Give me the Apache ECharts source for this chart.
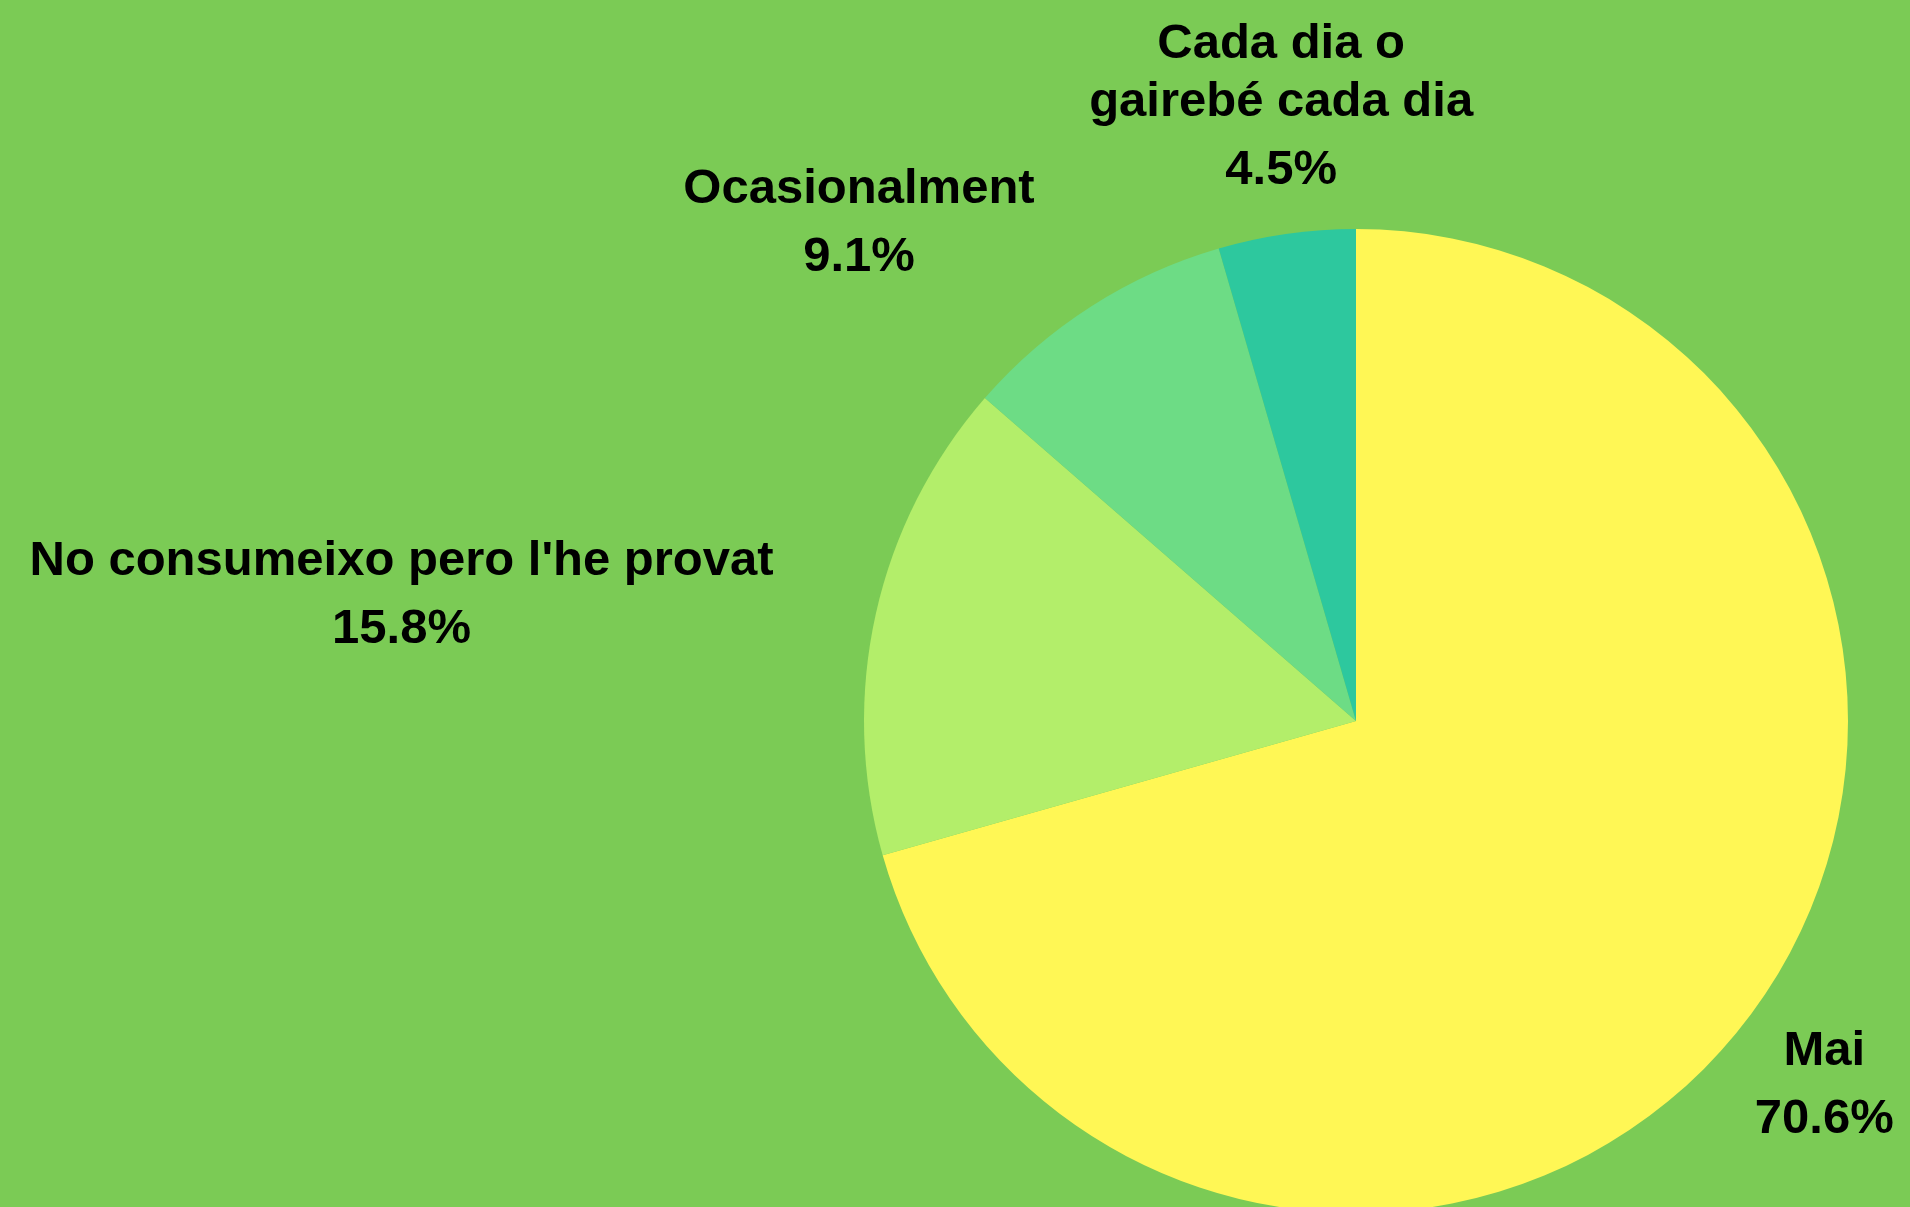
<!DOCTYPE html>
<html>
<head>
<meta charset="utf-8">
<script src="https://cdn.jsdelivr.net/npm/echarts@6/dist/echarts.min.js"></script>
<style>
  html, body { margin: 0; padding: 0; background: #7bcb55; }
  #chart { width: 1910px; height: 1207px; }
</style>
</head>
<body>
<div id="chart"></div>
<script>
var categories = ['Mai', "No consumeixo pero l'he provat", 'Ocasionalment', 'Cada dia o\ngairebé cada dia'];
var values = [70.6, 15.8, 9.1, 4.5];
var colors = ['#fff755', '#b3ee6a', '#6ddc85', '#2dc89e'];

var cx = 1356, cy = 721, r = 492;
// how far out (in radii) each label is anchored
var labelRadius = [1.016, 1.213, 1.213, 1.08];

var total = values.reduce(function (a, b) { return a + b; }, 0);

function midDir(i) {
    var before = 0;
    for (var k = 0; k < i; k++) before += values[k];
    var a = (before + values[i] / 2) / total * Math.PI * 2; // clockwise from top
    return { x: Math.sin(a), y: -Math.cos(a) };
}

var chart = echarts.init(document.getElementById('chart'));

var txt = { fontFamily: 'Liberation Sans', fontWeight: 'bold', fontSize: 49, color: '#000', lineHeight: 58, align: 'center' };

var option = {
    backgroundColor: '#7bcb55',
    animation: false,
    series: [{
        type: 'pie',
        // wide box so the pie layout never squeezes the right-hand label
        left: 0,
        top: 0,
        width: 4000,
        height: 1207,
        center: [cx, cy],
        radius: r,
        startAngle: 90,
        clockwise: true,
        itemStyle: { borderWidth: 0 },
        label: {
            show: true,
            position: 'outside',
            overflow: 'none',
            bleedMargin: 0,
            formatter: function (p) {
                var lines = p.name.split('\n').map(function (s) { return '{n|' + s + '}'; });
                return lines.join('\n') + '\n{s|}\n{p|' + p.value.toFixed(1) + '%}';
            },
            rich: {
                n: txt,
                p: txt,
                s: { lineHeight: 10, fontSize: 1 }
            }
        },
        labelLine: { show: false },
        labelLayout: function (params) {
            var i = params.dataIndex;
            var d = midDir(i);
            var t = r * labelRadius[i];
            var align = d.x > 0.5 ? 'left' : (d.x < -0.5 ? 'right' : 'center');
            var valign = d.y > 0.5 ? 'top' : (d.y < -0.9 ? 'bottom' : 'middle');
            return {
                x: cx + d.x * t,
                y: cy + d.y * t + (valign === 'top' ? 0 : 5),
                align: align,
                verticalAlign: valign
            };
        },
        data: categories.map(function (c, i) {
            return { name: c, value: values[i], itemStyle: { color: colors[i] } };
        })
    }]
};

chart.setOption(option);
</script>
</body>
</html>
